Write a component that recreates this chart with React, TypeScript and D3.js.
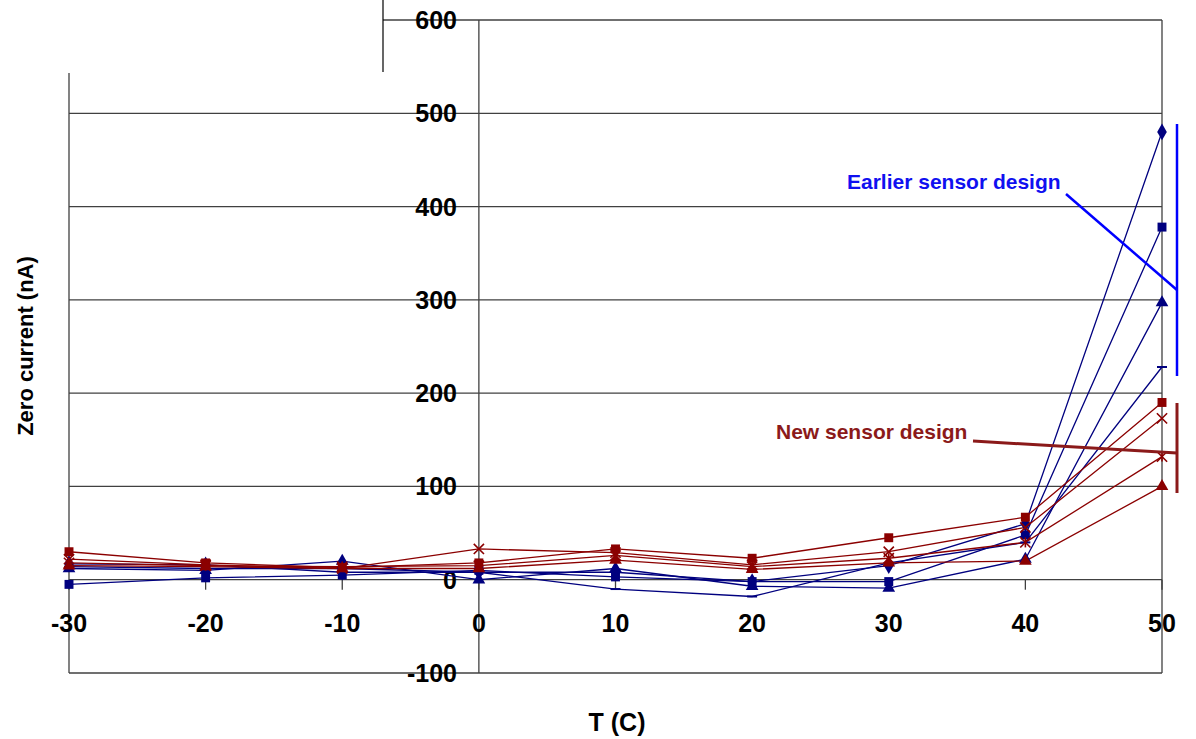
import React, { useRef, useEffect } from "react";
import * as d3 from "d3";

// temperature steps (C)
const temps = [-30, -20, -10, 0, 10, 20, 30, 40, 50];

// earlier sensor design (blue)
const earlierDiamond = [17, 16, 8, 8, 8, -2, 15, 60, 480];
const earlierSquare = [-5, 2, 5, 10, 3, -2, -2, 48, 378];
const earlierTriangle = [12, 10, 20, 0, 12, -7, -9, 22, 297];
const earlierDash = [14, 12, 12, 8, -10, -18, 18, 40, 228];

// new sensor design (dark red)
const newSquare = [30, 18, 13, 18, 33, 23, 45, 67, 190];
const newX = [22, 16, 12, 33, 29, 16, 30, 56, 173];
const newStar = [18, 15, 14, 15, 26, 14, 23, 40, 132];
const newTriangle = [15, 14, 12, 12, 21, 11, 18, 20, 100];

const xTicks = [-30, -20, -10, 0, 10, 20, 30, 40, 50];
const yTicks = [-100, 0, 100, 200, 300, 400, 500, 600];

const BLUE = "#00007f";
const RED = "#8b0000";

const series = [
    { name: "earlier-diamond", values: earlierDiamond, color: BLUE, marker: "diamond" },
    { name: "earlier-square", values: earlierSquare, color: BLUE, marker: "square" },
    { name: "earlier-triangle", values: earlierTriangle, color: BLUE, marker: "triangle" },
    { name: "earlier-dash", values: earlierDash, color: BLUE, marker: "dash" },
    { name: "new-square", values: newSquare, color: RED, marker: "square" },
    { name: "new-x", values: newX, color: RED, marker: "x" },
    { name: "new-star", values: newStar, color: RED, marker: "star" },
    { name: "new-triangle", values: newTriangle, color: RED, marker: "triangle" },
];

export default function App() {
    const svgRef = useRef<SVGSVGElement>(null);
    const W = 1196;
    const H = 739;

    useEffect(() => {
        if (!svgRef.current) return;
        const svg = d3.select(svgRef.current);
        svg.selectAll("*").remove();

        const x = d3.scaleLinear().domain([-30, 50]).range([69, 1162]);
        const y = d3.scaleLinear().domain([-100, 600]).range([673, 20]);
        const font = "'Liberation Sans', Arial, sans-serif";
        const gridColor = "#404040";

        // horizontal gridlines (top one is cut by the white box on the left)
        svg.append("g")
            .selectAll("line")
            .data(yTicks)
            .join("line")
            .attr("x1", d => (d === 600 ? 383 : x(-30)))
            .attr("x2", x(50))
            .attr("y1", d => y(d))
            .attr("y2", d => y(d))
            .attr("stroke", gridColor)
            .attr("stroke-width", 1.3);

        // frame
        svg.append("line")
            .attr("x1", x(50)).attr("x2", x(50))
            .attr("y1", y(600)).attr("y2", y(-100))
            .attr("stroke", gridColor).attr("stroke-width", 1.3);
        svg.append("line")
            .attr("x1", x(-30)).attr("x2", x(-30))
            .attr("y1", 73).attr("y2", y(-100))
            .attr("stroke", gridColor).attr("stroke-width", 1.3);
        svg.append("line")
            .attr("x1", 383).attr("x2", 383)
            .attr("y1", 0).attr("y2", 72)
            .attr("stroke", "#000").attr("stroke-width", 1.2);

        // y axis crossing at T = 0
        svg.append("line")
            .attr("x1", x(0)).attr("x2", x(0))
            .attr("y1", y(600)).attr("y2", y(-100))
            .attr("stroke", gridColor).attr("stroke-width", 1.3);

        // x tick marks on the zero line
        svg.append("g")
            .selectAll("line")
            .data(xTicks)
            .join("line")
            .attr("x1", d => x(d)).attr("x2", d => x(d))
            .attr("y1", y(0)).attr("y2", y(0) + 10)
            .attr("stroke", gridColor).attr("stroke-width", 1.3);

        // y tick labels
        svg.append("g")
            .selectAll("text")
            .data(yTicks)
            .join("text")
            .attr("x", 457)
            .attr("y", d => y(d) + 9)
            .attr("text-anchor", "end")
            .attr("font-family", font)
            .attr("font-weight", "bold")
            .attr("font-size", 25)
            .attr("fill", "#000")
            .text(d => d);

        // x tick labels
        svg.append("g")
            .selectAll("text")
            .data(xTicks)
            .join("text")
            .attr("x", d => x(d))
            .attr("y", 632)
            .attr("text-anchor", "middle")
            .attr("font-family", font)
            .attr("font-weight", "bold")
            .attr("font-size", 25)
            .attr("fill", "#000")
            .text(d => d);

        // lines
        const line = d3.line<number>()
            .x((_, i) => x(temps[i]))
            .y(d => y(d));

        series.forEach(s => {
            svg.append("path")
                .datum(s.values)
                .attr("fill", "none")
                .attr("stroke", s.color)
                .attr("stroke-width", 1.3)
                .attr("d", line);
        });

        // markers
        series.forEach(s => {
            const g = svg.append("g");
            s.values.forEach((v, i) => {
                const px = x(temps[i]);
                const py = y(v);
                const m = g.append("g").attr("transform", `translate(${px},${py})`);
                if (s.marker === "diamond") {
                    m.append("path").attr("d", d3.symbol(d3.symbolDiamond, 80)()).attr("fill", s.color);
                } else if (s.marker === "square") {
                    m.append("path").attr("d", d3.symbol(d3.symbolSquare, 80)()).attr("fill", s.color);
                } else if (s.marker === "triangle") {
                    m.append("path").attr("d", d3.symbol(d3.symbolTriangle, 70)()).attr("fill", s.color);
                } else if (s.marker === "dash") {
                    m.append("line").attr("x1", -5).attr("x2", 5)
                        .attr("stroke", s.color).attr("stroke-width", 2);
                } else {
                    m.append("path").attr("d", d3.symbol(d3.symbolX, 70)())
                        .attr("fill", "none").attr("stroke", s.color).attr("stroke-width", 1.6);
                    if (s.marker === "star") {
                        m.append("line").attr("y1", -5).attr("y2", 5)
                            .attr("stroke", s.color).attr("stroke-width", 1.6);
                    }
                }
            });
        });

        // annotation: earlier sensor design
        svg.append("text")
            .attr("x", 847).attr("y", 189)
            .attr("font-family", font).attr("font-weight", "bold").attr("font-size", 21)
            .attr("fill", "#1010f0")
            .text("Earlier sensor design");
        svg.append("line")
            .attr("x1", 1066).attr("y1", 194).attr("x2", 1177).attr("y2", 290)
            .attr("stroke", "#0000ff").attr("stroke-width", 2.5);
        svg.append("line")
            .attr("x1", 1177).attr("y1", 124).attr("x2", 1177).attr("y2", 376)
            .attr("stroke", "#0000ff").attr("stroke-width", 2.5);

        // annotation: new sensor design
        svg.append("text")
            .attr("x", 776).attr("y", 439)
            .attr("font-family", font).attr("font-weight", "bold").attr("font-size", 21)
            .attr("fill", "#8b1a1a")
            .text("New sensor design");
        svg.append("line")
            .attr("x1", 973).attr("y1", 441).attr("x2", 1177).attr("y2", 453)
            .attr("stroke", "#8b1a1a").attr("stroke-width", 3);
        svg.append("line")
            .attr("x1", 1177).attr("y1", 403).attr("x2", 1177).attr("y2", 493)
            .attr("stroke", "#8b1a1a").attr("stroke-width", 3);

        // axis titles
        svg.append("text")
            .attr("transform", "translate(33,346) rotate(-90)")
            .attr("text-anchor", "middle")
            .attr("font-family", font).attr("font-weight", "bold").attr("font-size", 22)
            .attr("fill", "#000")
            .text("Zero current (nA)");
        svg.append("text")
            .attr("x", 617).attr("y", 731)
            .attr("text-anchor", "middle")
            .attr("font-family", font).attr("font-weight", "bold").attr("font-size", 25)
            .attr("fill", "#000")
            .text("T (C)");
    }, []);

    return (
        <svg
            ref={svgRef}
            width={W}
            height={H}
            style={{ position: "absolute", left: 0, top: 0, background: "#fff" }}
        />
    );
}
